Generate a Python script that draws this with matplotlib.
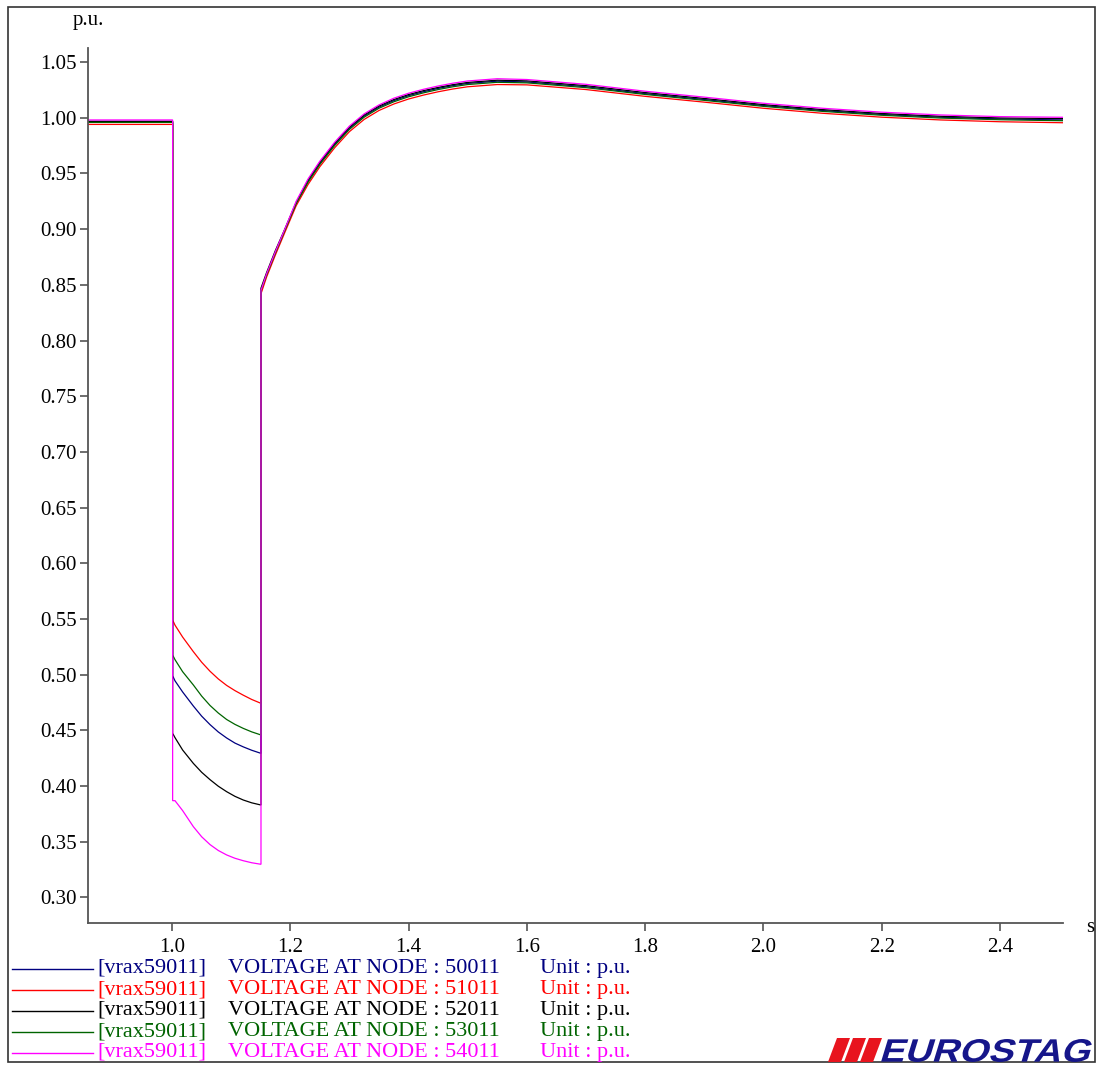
import matplotlib
matplotlib.use("Agg")
import matplotlib.pyplot as plt
from matplotlib.lines import Line2D
from matplotlib.patches import Rectangle, Polygon, PathPatch
from matplotlib.textpath import TextPath
from matplotlib.font_manager import FontProperties
from matplotlib.transforms import Affine2D, IdentityTransform

# ---------------- data ----------------
NODES = ["50011", "51011", "52011", "53011", "54011"]
COLORS = ["#000080", "#ff0000", "#000000", "#006400", "#ff00ff"]

T_START = 0.858
T_FAULT = 1.0011
T_CLEAR = 1.1505

PRE_V = [0.9967, 0.9940, 0.9967, 0.9958, 0.9980]

FAULT_T = [1.0011, 1.0051, 1.0180, 1.0361, 1.0502, 1.0643, 1.0783,
           1.0924, 1.1065, 1.1206, 1.1347, 1.1505]
FAULT_V = [
    [0.4991, 0.4945, 0.4845, 0.4719, 0.4628, 0.4552, 0.4486, 0.4432, 0.4386, 0.4352, 0.4322, 0.4294],
    [0.5491, 0.5445, 0.5338, 0.5207, 0.5112, 0.5031, 0.4962, 0.4904, 0.4857, 0.4816, 0.4778, 0.4743],
    [0.4474, 0.4435, 0.4324, 0.4204, 0.4124, 0.4058, 0.3999, 0.3950, 0.3908, 0.3875, 0.3850, 0.3830],
    [0.5177, 0.5135, 0.5027, 0.4908, 0.4808, 0.4724, 0.4656, 0.4598, 0.4554, 0.4518, 0.4487, 0.4459],
    [0.3869, 0.3869, 0.3780, 0.3636, 0.3545, 0.3475, 0.3422, 0.3382, 0.3352, 0.3330, 0.3312, 0.3298],
]

REC_T = [1.1505, 1.16, 1.175, 1.19, 1.21, 1.23, 1.25, 1.275, 1.30, 1.325, 1.35, 1.375,
         1.40, 1.425, 1.45, 1.475, 1.50, 1.55, 1.60, 1.70, 1.80, 1.90, 2.00, 2.10,
         2.20, 2.30, 2.40, 2.507]
REC_V = [
    [0.844, 0.859, 0.879, 0.898, 0.923, 0.943, 0.959, 0.976, 0.9905, 1.0015, 1.0095, 1.0153,
     1.0198, 1.0233, 1.0263, 1.0288, 1.0308, 1.0328, 1.0321, 1.0278, 1.0216, 1.0163, 1.0109, 1.0064,
     1.0029, 1.0004, 0.9989, 0.9980],
    [0.842, 0.857, 0.877, 0.896, 0.921, 0.940, 0.956, 0.973, 0.9875, 0.9985, 1.0065, 1.0123,
     1.0168, 1.0203, 1.0233, 1.0258, 1.0278, 1.0298, 1.0295, 1.0253, 1.0192, 1.0140, 1.0085, 1.0040,
     1.0005, 0.9980, 0.9964, 0.9955],
    [0.847, 0.861, 0.881, 0.899, 0.924, 0.944, 0.960, 0.977, 0.9915, 1.0025, 1.0105, 1.0163,
     1.0208, 1.0243, 1.0272, 1.0297, 1.0317, 1.0337, 1.0331, 1.0288, 1.0226, 1.0173, 1.0118, 1.0073,
     1.0038, 1.0013, 0.9998, 0.9992],
    [0.845, 0.859, 0.879, 0.898, 0.923, 0.942, 0.958, 0.975, 0.9895, 1.0005, 1.0085, 1.0143,
     1.0188, 1.0223, 1.0253, 1.0278, 1.0298, 1.0318, 1.0313, 1.0270, 1.0209, 1.0156, 1.0102, 1.0057,
     1.0022, 0.9997, 0.9982, 0.9973],
    [0.845, 0.860, 0.880, 0.899, 0.925, 0.945, 0.961, 0.978, 0.9925, 1.0035, 1.0115, 1.0175,
     1.0220, 1.0255, 1.0285, 1.0310, 1.0330, 1.0350, 1.0343, 1.0300, 1.0238, 1.0185, 1.0130, 1.0085,
     1.0050, 1.0025, 1.0010, 1.0004],
]

X_TICKS = [1.0, 1.2, 1.4, 1.6, 1.8, 2.0, 2.2, 2.4]
Y_TICKS = [0.30, 0.35, 0.40, 0.45, 0.50, 0.55, 0.60, 0.65, 0.70, 0.75, 0.80,
           0.85, 0.90, 0.95, 1.00, 1.05]

# ---------------- figure ----------------
W, H = 1097, 1066
DPI = 100
plt.rcParams['font.family'] = ['Liberation Serif', 'DejaVu Serif']
fig = plt.figure(figsize=(W / DPI, H / DPI), dpi=DPI)

def fx(px):
    return px / W

def fy(py):
    return 1 - py / H

ax_l, ax_r, ax_t, ax_b = 88, 1063, 48, 923
ax = fig.add_axes([fx(ax_l), fy(ax_b), (ax_r - ax_l) / W, (ax_b - ax_t) / H])

for i in range(len(NODES)):
    t = [T_START, T_FAULT] + FAULT_T + REC_T
    v = [PRE_V[i], PRE_V[i]] + FAULT_V[i] + REC_V[i]
    ax.plot(t, v, color=COLORS[i], lw=0.9, solid_joinstyle='miter')

ax.set_xlim(0.858, 2.5066)
ax.set_ylim(0.2771, 1.0626)
ax.set_xticks(X_TICKS)
ax.set_xticklabels([f"{x:.1f}" for x in X_TICKS])
ax.set_yticks(Y_TICKS)
ax.set_yticklabels([f"{y:.2f}" for y in Y_TICKS])
spine_c = "#555555"
for s in ("top", "right"):
    ax.spines[s].set_visible(False)
for s in ("left", "bottom"):
    ax.spines[s].set_color(spine_c)
    ax.spines[s].set_linewidth(1.3)
ax.tick_params(axis='both', direction='out', length=6, width=1.2, color=spine_c,
               labelsize=15, labelcolor='black', pad=2)
ax.tick_params(axis='x', pad=5)

# axis unit labels
fig.text(fx(88), fy(21), "p.u.", ha='center', va='center', fontsize=15)
fig.text(fx(1090), fy(927), "s", ha='center', va='center', fontsize=15)

# outer frame
fig.add_artist(Rectangle((fx(8), fy(1062)), fx(1095) - fx(8), fy(7) - fy(1062),
                         transform=fig.transFigure, fill=False, edgecolor='#333333', lw=1.2))

# legend
row0, dy = 968.5, 21
for i, node in enumerate(NODES):
    y = row0 + dy * i
    fig.add_artist(Line2D([fx(12), fx(93)], [fy(y), fy(y)], color=COLORS[i], lw=1.0,
                          transform=fig.transFigure))
    fig.text(fx(97), fy(y), "[vrax59011]", color=COLORS[i], fontsize=16, va='center', ha='left')
    fig.text(fx(228), fy(y), f"VOLTAGE AT NODE : {node}", color=COLORS[i], fontsize=16,
             va='center', ha='left')
    fig.text(fx(540), fy(y), "Unit : p.u.", color=COLORS[i], fontsize=16, va='center', ha='left')

# EUROSTAG logo
red = "#e8141e"
for k in range(3):
    dx = 16 * k
    pts = [(828 + dx, H - 1062), (841 + dx, H - 1062), (850 + dx, H - 1038), (837 + dx, H - 1038)]
    fig.add_artist(Polygon(pts, closed=True, transform=IdentityTransform(),
                           facecolor=red, edgecolor='none'))
fp = FontProperties(family='Liberation Sans', weight='bold')
tp = TextPath((0, 0), "EUROSTAG", size=100, prop=fp)
ext = tp.get_extents()
sx = 206 / ext.width
sy = 23 / ext.height
tr = (Affine2D().translate(-ext.x0, -ext.y0).scale(sx, sy).skew_deg(17, 0)
      .translate(881, H - 1062))
fig.add_artist(PathPatch(tp, transform=tr, facecolor='#16168a', edgecolor='none'))

fig.savefig("out.png", dpi=DPI)
